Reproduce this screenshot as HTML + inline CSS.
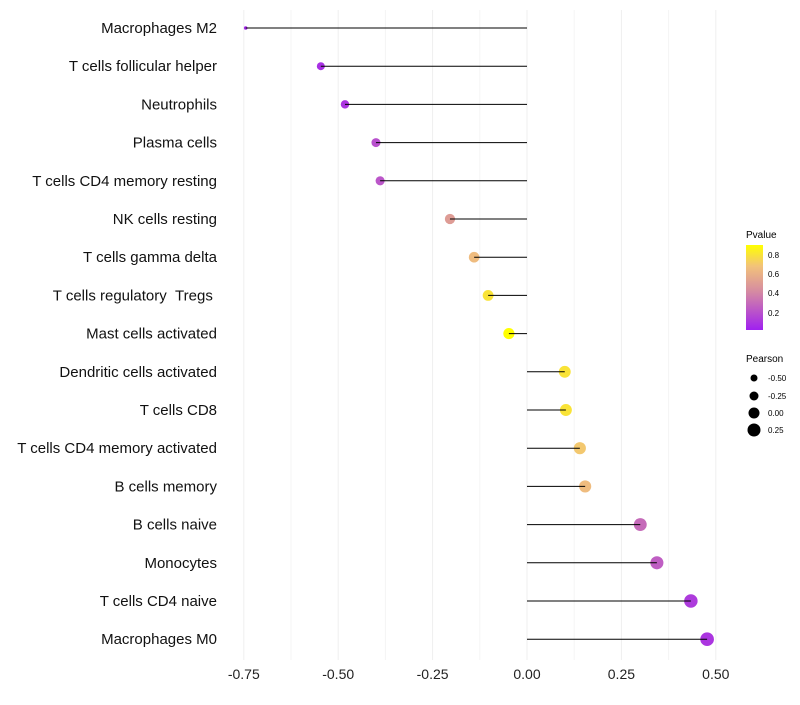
<!DOCTYPE html>
<html><head><meta charset="utf-8"><style>
body{margin:0;background:#fff;font-family:"Liberation Sans",sans-serif}
svg text{font-family:"Liberation Sans",sans-serif}
</style></head><body>
<svg id="chart" width="800" height="700" xmlns="http://www.w3.org/2000/svg">
<defs><linearGradient id="pg" x1="0" y1="1" x2="0" y2="0">
<stop offset="0" stop-color="#A020F0"/><stop offset="0.45" stop-color="#D58AA2"/><stop offset="0.75" stop-color="#F2C27A"/><stop offset="1" stop-color="#FFFF00"/></linearGradient></defs>
<g id="grid"></g><g id="points"></g><g id="stems"></g><g id="labels"></g><g id="xticks"></g>
<g>
<text x="746" y="238" font-size="10">Pvalue</text>
<rect x="746" y="245" width="17" height="85" fill="url(#pg)"/>
<text x="768" y="258" font-size="8">0.8</text><text x="768" y="277" font-size="8">0.6</text>
<text x="768" y="296" font-size="8">0.4</text><text x="768" y="316" font-size="8">0.2</text>
</g>
<g>
<text x="746" y="362" font-size="10">Pearson</text>
<circle cx="754" cy="378" r="3.5"/><text x="768" y="381" font-size="8">-0.50</text>
<circle cx="754" cy="396" r="4.5"/><text x="768" y="399" font-size="8">-0.25</text>
<circle cx="754" cy="413" r="5.5"/><text x="768" y="416" font-size="8">0.00</text>
<circle cx="754" cy="430" r="6.5"/><text x="768" y="433" font-size="8">0.25</text>
</g>
</svg>
<script>
const categories=["Macrophages M2","T cells follicular helper","Neutrophils","Plasma cells","T cells CD4 memory resting","NK cells resting","T cells gamma delta","T cells regulatory\u00a0\u00a0Tregs\u00a0","Mast cells activated","Dendritic cells activated","T cells CD8","T cells CD4 memory activated","B cells memory","B cells naive","Monocytes","T cells CD4 naive","Macrophages M0"];
const pearson=[-0.745,-0.546,-0.482,-0.40,-0.389,-0.204,-0.14,-0.103,-0.048,0.10,0.103,0.14,0.154,0.30,0.344,0.434,0.477];
const pvalues=[0.05,0.08,0.1,0.2,0.22,0.5,0.65,0.8,0.9,0.8,0.8,0.7,0.65,0.3,0.25,0.12,0.1];
const xTicks=[-0.75,-0.5,-0.25,0,0.25,0.5];
const xTickLabels=["-0.75","-0.50","-0.25","0.00","0.25","0.50"];
const NS="http://www.w3.org/2000/svg";
const x=v=>527+v*377.6, y=i=>28+i*38.2;
const r=v=>v<-0.65?1.8:Math.sqrt(16+30*(v+0.546));
function col(p){const stops=[[0,[160,32,240]],[0.45,[213,138,162]],[0.75,[242,194,122]],[1,[255,255,0]]];
 let t=(p-0.02)/0.88;t=Math.max(0,Math.min(1,t));
 for(let k=1;k<stops.length;k++){if(t<=stops[k][0]){const a=stops[k-1],b=stops[k];const f=(t-a[0])/(b[0]-a[0]);
 return "rgb("+a[1].map((c,j)=>Math.round(c+(b[1][j]-c)*f)).join(",")+")";}}return "rgb(255,255,0)";}
function el(t,a,parent){const e=document.createElementNS(NS,t);for(const k in a)e.setAttribute(k,a[k]);document.getElementById(parent).appendChild(e);return e;}
xTicks.forEach((v,i)=>{
 const g=el("line",{x1:x(v),x2:x(v),y1:10,y2:660,stroke:"#efefef","stroke-width":1},"grid");
 
 
 if(i<xTicks.length-1){const m=el("line",{x1:x(v+0.125),x2:x(v+0.125),y1:10,y2:660,stroke:"#f4f4f4","stroke-width":1},"grid");
 
 }
 const t=el("text",{x:x(v),y:679,"font-size":14,"text-anchor":"middle",fill:"#222"},"xticks");
 t.textContent=xTickLabels[i];
 
 
});
categories.forEach((c,i)=>{
 const d=el("circle",{cx:x(pearson[i]),cy:y(i),r:r(pearson[i]),fill:col(pvalues[i])},"points");
 
 
 const l=el("line",{x1:x(0),x2:x(pearson[i]),y1:y(i),y2:y(i),stroke:"#000","stroke-width":1},"stems");
 
 
 const t=el("text",{x:217,y:y(i)+5,"font-size":15,"text-anchor":"end",fill:"#111"},"labels");
 t.textContent=c;
 
 
});
</script>
</body></html>
